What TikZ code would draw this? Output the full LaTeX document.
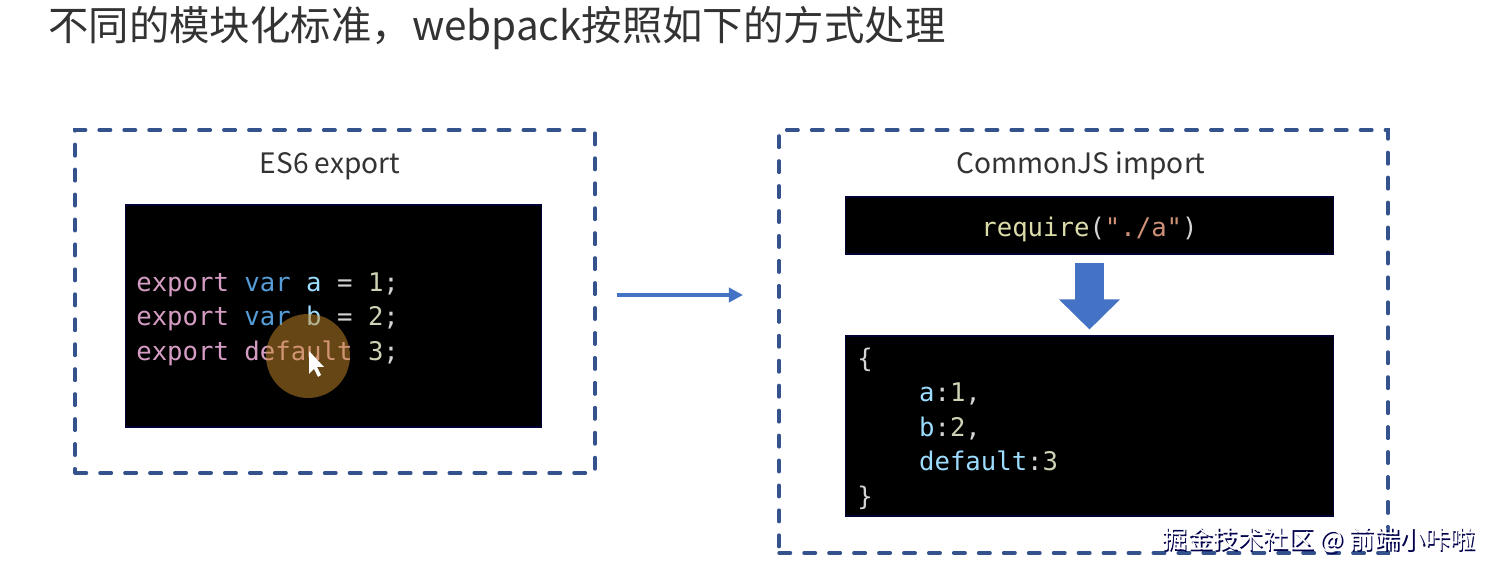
\documentclass[tikz,border=0pt]{standalone}
\usepackage{fontspec}
\newfontfamily\cjk{Noto Sans CJK SC}
\newfontfamily\codefont{DejaVu Sans Mono}
\usetikzlibrary{arrows.meta}

\definecolor{titlecol}{RGB}{51,51,51}
\definecolor{framecol}{RGB}{52,82,140}
\definecolor{arrowcol}{RGB}{68,114,196}
\definecolor{plain}{RGB}{212,212,212}
\definecolor{keycol}{RGB}{214,157,196}
\definecolor{varcol}{RGB}{86,156,214}
\definecolor{idcol}{RGB}{156,220,254}
\definecolor{numcol}{RGB}{205,210,180}
\definecolor{funcol}{RGB}{220,220,170}
\definecolor{strcol}{RGB}{206,145,120}
\definecolor{cursorcol}{RGB}{205,140,40}

\newcommand{\cKey}[1]{\textcolor{keycol}{#1}}
\newcommand{\cVar}[1]{\textcolor{varcol}{#1}}
\newcommand{\cId}[1]{\textcolor{idcol}{#1}}
\newcommand{\cNum}[1]{\textcolor{numcol}{#1}}
\newcommand{\cFun}[1]{\textcolor{funcol}{#1}}
\newcommand{\cStr}[1]{\textcolor{strcol}{#1}}

\tikzstyle{frame} = [
    rectangle,
    draw=framecol,
    line width=2pt,
    line cap=round,
    dash pattern=on 6.5pt off 7.7pt
]
\tikzstyle{codebox} = [
    rectangle,
    fill=black,
    draw=black!80!blue,
    line width=0.6pt
]
\tikzstyle{caption} = [
    font=\cjk\fontsize{16}{20}\selectfont,
    text=titlecol,
    anchor=base
]
\tikzstyle{code} = [
    font=\codefont\fontsize{14.6}{19.6}\selectfont,
    text=plain,
    align=left,
    anchor=west,
    inner sep=0pt
]
\tikzstyle{arrow} = [arrowcol, line width=2.2pt, -{Triangle[width=8pt,length=8pt]}]

\begin{document}
\begin{tikzpicture}[x=0.02cm, y=-0.02cm]

\useasboundingbox (0,0) rectangle (1491,573);
\fill[white] (0,0) rectangle (1491,573);

% title
\node (title) [anchor=west, inner sep=0pt, text=titlecol,
    font=\cjk\fontsize{23}{28}\selectfont] at (48,28)
{不同的模块化标准，webpack按照如下的方式处理};

% left: ES6 export
\node (esframe) [frame, minimum width=10.4cm, minimum height=6.86cm] at (335,301.5) {};
\node (eslabel) [caption] at (330,174) {ES6 export};
\node (escode) [codebox, minimum width=8.34cm, minimum height=4.44cm] at (333.5,316) {};
\node (estext) [code] at (136,319)
{\cKey{export} \cVar{var} \cId{a} = \cNum{1};\\
 \cKey{export} \cVar{var} \cId{b} = \cNum{2};\\
 \cKey{export} \cKey{default} \cNum{3};};

% cursor
\fill[cursorcol, opacity=0.5] (308,356) circle (0.84cm);
\fill[white] (309,351) -- (309,374) -- (314,369) -- (318,377) -- (321,375)
    -- (317,367) -- (324,367) -- cycle;

% middle arrow
\coordinate (arrowstart) at (617,295);
\coordinate (arrowend) at (743,295);
\draw [arrow] (arrowstart) -- (arrowend);

% right: CommonJS import
\node (cjsframe) [frame, minimum width=12.18cm, minimum height=8.46cm] at (1083.5,341.5) {};
\node (cjslabel) [caption] at (1081,174) {CommonJS import};
\node (reqbox) [codebox, minimum width=9.78cm, minimum height=1.14cm] at (1089.5,225.5) {};
\node (reqtext) [code, anchor=center] at (1089.5,229)
{\cFun{require}(\cStr{"./a"})};
\node (objbox) [codebox, minimum width=9.78cm, minimum height=3.6cm] at (1089.5,426) {};
\node (objtext) [code] at (857,428.5)
{\{\\
 \phantom{xxxx}\cId{a}:\cNum{1},\\
 \phantom{xxxx}\cId{b}:\cNum{2},\\
 \phantom{xxxx}\cId{default}:\cNum{3}\\
 \}};

\draw [arrowcol, line width=0.58cm, shorten <=0.16cm, shorten >=0.12cm,
    -{Triangle[width=1.18cm,length=0.6cm]}] (reqbox.south) -- (objbox.north);

% watermark
\node (wmshadow) [text=black!70!blue, font=\cjk\fontsize{14.4}{16}\selectfont] at (1320.5,541.5)
{掘金技术社区 @ 前端小咔啦};
\node (wm) [text=white, font=\cjk\fontsize{14.4}{16}\selectfont] at (1319,540)
{掘金技术社区 @ 前端小咔啦};

\end{tikzpicture}
\end{document}
